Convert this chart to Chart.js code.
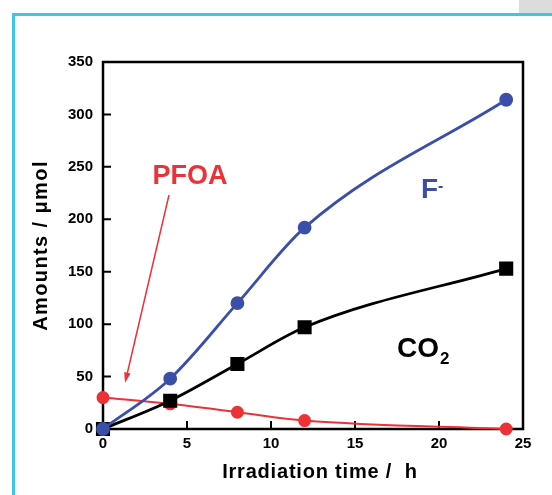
<!DOCTYPE html>
<html>
<head>
<meta charset="utf-8">
<script src="https://cdn.jsdelivr.net/npm/chart.js@4.4.1/dist/chart.umd.min.js"></script>
<style>
  html, body { margin: 0; padding: 0; background: #fff; }
  #wrap { position: relative; width: 552px; height: 495px; overflow: hidden; }
  #frame { position: absolute; left: 12px; top: 13px; width: 560px; height: 500px;
           border-left: 3px solid #3cc6ee; border-top: 3px solid #3cc6ee; }
  #corner { position: absolute; left: 519px; top: 0; width: 40px; height: 13px; background: #dcdcdc; }
  canvas { position: absolute; left: 0; top: 0; }
</style>
</head>
<body>
<div id="wrap">
  <div id="corner"></div>
  <div id="frame"></div>
  <canvas id="chart" width="552" height="495"></canvas>
</div>
<script>
// data
const times = [0, 4, 8, 12, 24];
const fluoride = [0, 48, 120, 192, 314];
const co2 = [0, 27, 62, 97, 153];
const pfoa = [30, 24, 16, 8, 0];

const xTicks = [0, 5, 10, 15, 20, 25];
const yTicks = [0, 50, 100, 150, 200, 250, 300, 350];

const BLUE = "#3b4fa8";
const RED = "#ec3237";
const FONT = "'Liberation Sans', Arial, sans-serif";

function pts(ys) {
  return times.map((t, i) => ({ x: t, y: ys[i] }));
}

// frame, inward ticks, axis titles and labels
const decor = {
  id: "decor",
  beforeDatasetsDraw(chart) {
    const { ctx, chartArea: a, scales } = chart;
    ctx.save();
    ctx.strokeStyle = "#000";
    ctx.lineWidth = 2.5;
    ctx.strokeRect(a.left, a.top, a.right - a.left, a.bottom - a.top);
    ctx.lineWidth = 2;
    ctx.beginPath();
    xTicks.forEach(v => {
      const x = scales.x.getPixelForValue(v);
      ctx.moveTo(x, a.bottom);
      ctx.lineTo(x, a.bottom - 8);
    });
    yTicks.forEach(v => {
      const y = scales.y.getPixelForValue(v);
      ctx.moveTo(a.left, y);
      ctx.lineTo(a.left + 8, y);
    });
    ctx.stroke();
    ctx.restore();
  },
  afterDraw(chart) {
    const { ctx, chartArea: a } = chart;
    ctx.save();
    ctx.fillStyle = "#000";
    ctx.textAlign = "center";
    ctx.textBaseline = "middle";
    ctx.font = "bold 20px " + FONT;
    ctx.letterSpacing = "0.8px";
    ctx.fillText("Irradiation time /  h", 320, 472);

    ctx.translate(41, (a.top + a.bottom) / 2);
    ctx.rotate(-Math.PI / 2);
    ctx.letterSpacing = "1.4px";
    ctx.fillText("Amounts / \u03bcmol", 0, 0);
    ctx.restore();

    ctx.save();
    // PFOA label + arrow
    ctx.fillStyle = RED;
    ctx.strokeStyle = RED;
    ctx.font = "bold 27px " + FONT;
    ctx.textAlign = "center";
    ctx.textBaseline = "alphabetic";
    ctx.fillText("PFOA", 190, 184);
    const x1 = 169, y1 = 195, x2 = 125, y2 = 383;
    const ang = Math.atan2(y2 - y1, x2 - x1);
    ctx.lineWidth = 1.5;
    ctx.beginPath();
    ctx.moveTo(x1, y1);
    ctx.lineTo(x2 - 9 * Math.cos(ang), y2 - 9 * Math.sin(ang));
    ctx.stroke();
    ctx.beginPath();
    ctx.moveTo(x2, y2);
    ctx.lineTo(x2 - 11 * Math.cos(ang - 0.3), y2 - 11 * Math.sin(ang - 0.3));
    ctx.lineTo(x2 - 11 * Math.cos(ang + 0.3), y2 - 11 * Math.sin(ang + 0.3));
    ctx.closePath();
    ctx.fill();

    // F- label
    ctx.fillStyle = BLUE;
    ctx.textAlign = "left";
    ctx.font = "bold 28px " + FONT;
    ctx.fillText("F", 421, 198);
    ctx.font = "bold 16px " + FONT;
    ctx.fillText("-", 438, 191);

    // CO2 label
    ctx.fillStyle = "#000";
    ctx.font = "bold 28px " + FONT;
    ctx.fillText("CO", 397, 357);
    ctx.font = "bold 17px " + FONT;
    ctx.fillText("2", 440, 364);
    ctx.restore();
  }
};

const ctx = document.getElementById("chart").getContext("2d");
const chart = new Chart(ctx, {
  type: "line",
  data: {
    datasets: [
      {
        label: "F-",
        data: pts(fluoride),
        borderColor: BLUE,
        backgroundColor: BLUE,
        borderWidth: 2.8,
        pointStyle: "circle",
        pointRadius: 5.5,
        cubicInterpolationMode: "monotone",
        clip: false,
      },
      {
        label: "CO2",
        data: pts(co2),
        borderColor: "#000",
        backgroundColor: "#000",
        borderWidth: 2.8,
        pointStyle: "rect",
        pointRadius: 8,
        cubicInterpolationMode: "monotone",
        clip: false,
      },
      {
        label: "PFOA",
        data: pts(pfoa),
        borderColor: RED,
        backgroundColor: RED,
        borderWidth: 2,
        pointStyle: "circle",
        pointRadius: 5.5,
        cubicInterpolationMode: "monotone",
        clip: false,
      },
    ],
  },
  options: {
    responsive: false,
    animation: false,
    events: [],
    layout: { padding: { top: 62, right: 29, left: 0, bottom: 0 } },
    plugins: {
      legend: { display: false },
      tooltip: { enabled: false },
    },
    scales: {
      x: {
        type: "linear",
        min: 0,
        max: 25,
        grid: { display: false, drawTicks: false },
        border: { display: false },
        afterFit: (s) => { s.height = 66; },
        afterBuildTicks: (s) => { s.ticks = xTicks.map(v => ({ value: v })); },
        ticks: {
          padding: 6,
          color: "#000",
          maxRotation: 0,
          font: { family: FONT, size: 15, weight: "bold" },
        },
      },
      y: {
        min: 0,
        max: 350,
        grid: { display: false, drawTicks: false },
        border: { display: false },
        afterFit: (s) => { s.width = 103; },
        afterBuildTicks: (s) => { s.ticks = yTicks.map(v => ({ value: v })); },
        ticks: {
          padding: 10,
          color: "#000",
          font: { family: FONT, size: 15, weight: "bold" },
        },
      },
    },
  },
  plugins: [decor],
});
</script>
</body>
</html>
